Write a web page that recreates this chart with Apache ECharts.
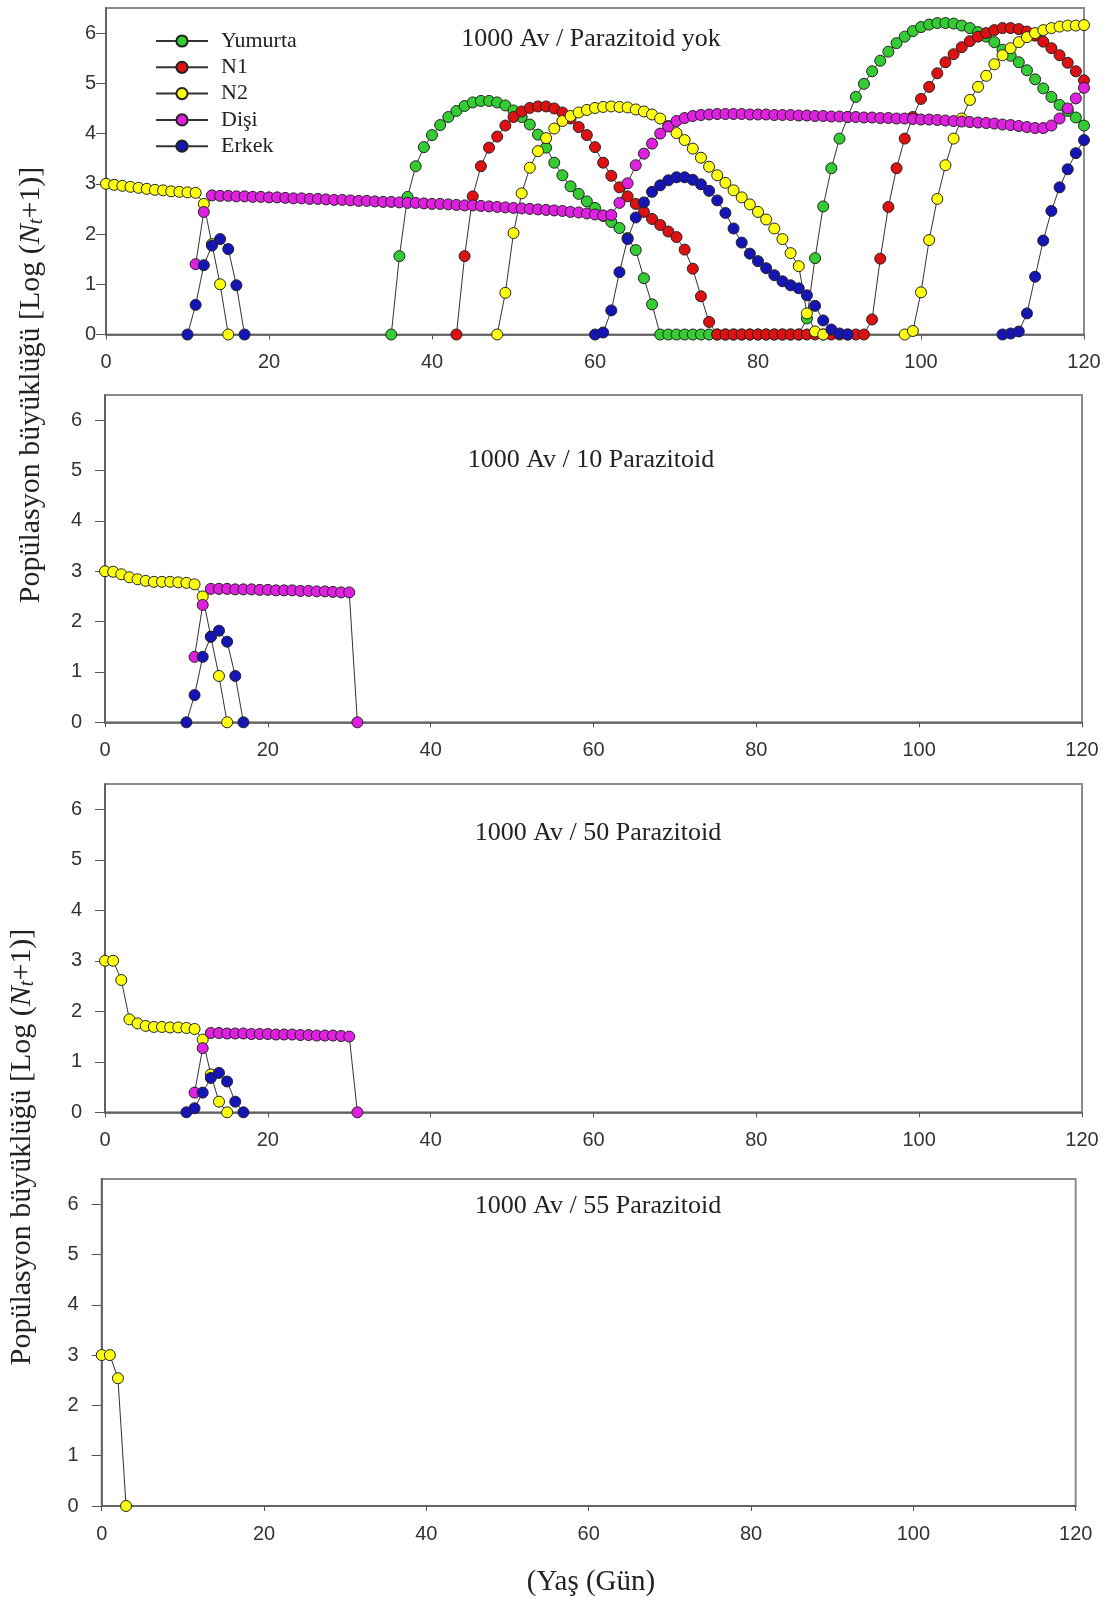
<!DOCTYPE html>
<html>
<head>
<meta charset="utf-8">
<script src="https://cdn.jsdelivr.net/npm/echarts@6/dist/echarts.min.js"></script>
<style>
  html, body { margin: 0; padding: 0; background: #ffffff; }
  #chart { width: 1120px; height: 1603px; }
</style>
</head>
<body>
<div id="chart"></div>
<script>
// ---------------- DATA (days 0..120, values = Log(Nt+1)) ----------------
const DAYS = 121;
const seriesNames = ['Yumurta', 'N1', 'N2', 'Dişi', 'Erkek'];
const xTicks = [0, 20, 40, 60, 80, 100, 120];
const yTicks = [0, 1, 2, 3, 4, 5, 6];
const panelTitles = ['1000 Av / Parazitoid yok', '1000 Av / 10 Parazitoid', '1000 Av / 50 Parazitoid', '1000 Av / 55 Parazitoid'];

// Each series: list of [startDay, values...] segments
// Panel 1: 1000 Av / Parazitoid yok
const p1Yumurta = [
  [35, [0, 1.56, 2.74, 3.35, 3.73, 3.97, 4.17, 4.33, 4.45, 4.55, 4.62, 4.65, 4.65, 4.62, 4.56, 4.46, 4.33, 4.18, 3.98, 3.72, 3.42, 3.17, 2.95, 2.8, 2.65, 2.52, 2.36, 2.24, 2.12, 1.92, 1.68, 1.12, 0.6, 0]],
  [69, [0, 0, 0, 0, 0, 0, 0, 0, 0, 0, 0, 0, 0, 0, 0, 0, 0]],
  [86, [0.32, 1.52, 2.55, 3.31, 3.9, 4.33, 4.73, 4.99, 5.24, 5.45, 5.63, 5.8, 5.93, 6.04, 6.12, 6.17, 6.2, 6.2, 6.19, 6.15, 6.1, 6.02, 5.93, 5.82, 5.67, 5.55, 5.42, 5.26, 5.08, 4.9, 4.73, 4.57, 4.45, 4.32, 4.16]]
];
const p1N1 = [
  [43, [0, 1.56, 2.75, 3.35, 3.72, 3.94, 4.16, 4.33, 4.44, 4.51, 4.54, 4.54, 4.5, 4.42, 4.3, 4.13, 3.97, 3.73, 3.42, 3.16, 2.93, 2.75, 2.6, 2.44, 2.3, 2.18, 2.05, 1.94, 1.69, 1.31, 0.76, 0.25, 0]],
  [76, [0, 0, 0, 0, 0, 0, 0, 0, 0, 0, 0, 0, 0, 0, 0, 0, 0, 0]],
  [94, [0.3, 1.51, 2.54, 3.31, 3.9, 4.33, 4.69, 4.93, 5.2, 5.42, 5.58, 5.72, 5.84, 5.93, 6.0, 6.06, 6.1, 6.1, 6.08, 6.03, 5.95, 5.83, 5.7, 5.56, 5.41, 5.24, 5.06]]
];
const p1N2 = [
  [0, [3.0, 2.98, 2.96, 2.94, 2.92, 2.9, 2.88, 2.87, 2.85, 2.84, 2.83, 2.82, 2.6, 1.8, 1.0, 0]],
  [48, [0, 0.83, 2.02, 2.81, 3.32, 3.65, 3.91, 4.1, 4.25, 4.35, 4.42, 4.47, 4.51, 4.53, 4.54, 4.53, 4.52, 4.48, 4.44, 4.38, 4.3, 4.15, 4.01, 3.87, 3.7, 3.52, 3.34, 3.17, 3.02, 2.87, 2.73, 2.59, 2.44, 2.29, 2.11, 1.9, 1.62, 1.36, 0.42, 0.06, 0]],
  [98, [0, 0.07, 0.84, 1.88, 2.7, 3.37, 3.9, 4.3, 4.67, 4.93, 5.15, 5.38, 5.56, 5.7, 5.82, 5.92, 6.0, 6.06, 6.1, 6.13, 6.15, 6.15, 6.16]]
];
const p1Disi = [
  [11, [1.4, 2.44, 2.77, 2.76, 2.76, 2.75, 2.75, 2.74, 2.74, 2.73, 2.73, 2.72, 2.71, 2.71, 2.70, 2.70, 2.69, 2.68, 2.68, 2.67,
        2.66, 2.66, 2.65, 2.64, 2.64, 2.63, 2.62, 2.62, 2.61, 2.60, 2.60, 2.59, 2.58, 2.57, 2.57, 2.56, 2.55, 2.54, 2.53, 2.52,
        2.51, 2.50, 2.49, 2.48, 2.47, 2.46, 2.44, 2.43, 2.41, 2.39, 2.37, 2.38, 2.62, 3.01, 3.37, 3.6, 3.8, 4.0, 4.14, 4.25,
        4.31, 4.35, 4.37, 4.38, 4.39, 4.39, 4.39, 4.39, 4.38, 4.38, 4.38, 4.37, 4.37, 4.37, 4.36, 4.36, 4.35, 4.35, 4.34, 4.34,
        4.33, 4.33, 4.32, 4.32, 4.31, 4.31, 4.30, 4.30, 4.29, 4.28, 4.28, 4.27, 4.26, 4.25, 4.24, 4.23, 4.22, 4.21, 4.20, 4.18,
        4.17, 4.15, 4.13, 4.11, 4.11, 4.16, 4.30, 4.50, 4.70, 4.91]]
];
const p1Erkek = [
  [10, [0, 0.59, 1.38, 1.77, 1.9, 1.7, 0.98, 0]],
  [60, [0, 0.04, 0.48, 1.24, 1.9, 2.33, 2.63, 2.84, 2.97, 3.07, 3.13, 3.13, 3.08, 2.99, 2.86, 2.67, 2.42, 2.11, 1.83, 1.61, 1.46, 1.32, 1.18, 1.06, 0.98, 0.92, 0.78, 0.57, 0.28, 0.1, 0.02, 0]],
  [110, [0, 0.02, 0.06, 0.42, 1.15, 1.87, 2.46, 2.93, 3.29, 3.61, 3.87]]
];

// Panel 2: 1000 Av / 10 Parazitoid
const p2N2 = [[0, [3.0, 2.99, 2.94, 2.88, 2.84, 2.81, 2.79, 2.79, 2.79, 2.78, 2.77, 2.74, 2.5, 1.7, 0.92, 0]]];
const p2Disi = [[11, [1.3, 2.33, 2.65, 2.65, 2.65, 2.64, 2.64, 2.64, 2.63, 2.63, 2.62, 2.62, 2.62, 2.61, 2.61, 2.60, 2.60, 2.59, 2.58, 2.58, 0]]];
const p2Erkek = [[10, [0, 0.54, 1.3, 1.7, 1.82, 1.6, 0.92, 0]]];

// Panel 3: 1000 Av / 50 Parazitoid
const p3N2 = [[0, [3.0, 3.0, 2.62, 1.84, 1.76, 1.71, 1.69, 1.69, 1.68, 1.68, 1.67, 1.65, 1.44, 0.75, 0.21, 0]]];
const p3Disi = [[11, [0.39, 1.27, 1.57, 1.57, 1.56, 1.56, 1.56, 1.55, 1.55, 1.55, 1.54, 1.54, 1.54, 1.53, 1.53, 1.52, 1.52, 1.52, 1.51, 1.5, 0]]];
const p3Erkek = [[10, [0, 0.08, 0.39, 0.68, 0.78, 0.61, 0.21, 0]]];

// Panel 4: 1000 Av / 55 Parazitoid
const p4N2 = [[0, [3.0, 3.0, 2.54, 0]]];

// ---------------- STYLE / LAYOUT ----------------
const COLORS = { 'Yumurta': '#33cc33', 'N1': '#dd1111', 'N2': '#ffff10', 'Dişi': '#e020e0', 'Erkek': '#1515b5' };
const SERIF = 'Liberation Serif';
const SANS = 'Liberation Sans';

const panels = [
  { grid: { left: 106, top: 8, width: 978, height: 326.5 }, yLabelMargin: 10, title: [591, 39],
    data: { 'Yumurta': p1Yumurta, 'N1': p1N1, 'N2': p1N2, 'Dişi': p1Disi, 'Erkek': p1Erkek } },
  { grid: { left: 105, top: 395, width: 977, height: 327.3 }, yLabelMargin: 23, title: [591, 460],
    data: { 'N2': p2N2, 'Dişi': p2Disi, 'Erkek': p2Erkek } },
  { grid: { left: 105, top: 784, width: 977, height: 328.3 }, yLabelMargin: 23, title: [598, 833],
    data: { 'N2': p3N2, 'Dişi': p3Disi, 'Erkek': p3Erkek } },
  { grid: { left: 101.7, top: 1179, width: 974, height: 327 }, yLabelMargin: 23, title: [598, 1206],
    data: { 'N2': p4N2 } }
];

function place(segments) {
  const a = new Array(DAYS).fill(null);
  segments.forEach(([s, vals]) => vals.forEach((v, k) => { a[s + k] = v; }));
  return a.map((v, i) => [i, v === null ? '-' : v]);
}

const grid = [], xAxis = [], yAxis = [], series = [], graphic = [];
panels.forEach((p, gi) => {
  grid.push(Object.assign({ show: true, borderColor: '#8c8c8c', borderWidth: 2, backgroundColor: 'transparent' }, p.grid));
  xAxis.push({
    type: 'value', gridIndex: gi, min: 0, max: 120, interval: 20,
    axisLine: { show: true, onZero: false, lineStyle: { color: '#555', width: 1.5 } },
    axisTick: { show: true, length: 5, lineStyle: { color: '#555' } },
    axisLabel: { margin: 18, fontSize: 20, fontFamily: SANS, color: '#333' },
    splitLine: { show: false }
  });
  yAxis.push({
    type: 'value', gridIndex: gi, min: 0, max: 6.5,
    axisLine: { show: true, onZero: false, lineStyle: { color: '#555', width: 1.5 } },
    axisTick: { show: true, length: 10, customValues: yTicks, lineStyle: { color: '#555' } },
    axisLabel: { margin: p.yLabelMargin, customValues: yTicks, fontSize: 20, fontFamily: SANS, color: '#333' },
    splitLine: { show: false }
  });
  seriesNames.forEach(name => {
    if (!p.data[name]) return;
    series.push({
      name: name, type: 'line', xAxisIndex: gi, yAxisIndex: gi,
      data: place(p.data[name]),
      symbol: 'circle', symbolSize: 11, showSymbol: true, showAllSymbol: true,
      connectNulls: false,
      lineStyle: { color: '#333', width: 1 },
      itemStyle: { color: COLORS[name], borderColor: '#222', borderWidth: 1 },
      emphasis: { disabled: true },
      animation: false
    });
  });
  graphic.push({
    type: 'text', x: p.title[0], y: p.title[1], z: 100,
    style: { text: panelTitles[gi], font: '26px "' + SERIF + '"', fill: '#222',
             align: 'center', verticalAlign: 'middle', textAlign: 'center', textVerticalAlign: 'middle' }
  });
});

const yTitleRich = {
  n: { fontFamily: SERIF, fontSize: 30, fontStyle: 'italic', fill: '#222', color: '#222' },
  t: { fontFamily: SERIF, fontSize: 20, fontStyle: 'italic', fill: '#222', color: '#222', padding: [12, 0, 0, 0] },
  r: { fontFamily: SERIF, fontSize: 30, fill: '#222', color: '#222' }
};
const yTitleText = '{r|Popülasyon büyüklüğü [Log (}{n|N}{t|t}{r|+1)]}';
[[31, 385], [22, 1147]].forEach(pos => {
  graphic.push({
    type: 'text', x: pos[0], y: pos[1], rotation: Math.PI / 2, z: 100,
    style: { text: yTitleText, rich: yTitleRich, font: '30px "' + SERIF + '"', fill: '#222',
             align: 'center', verticalAlign: 'middle', textAlign: 'center', textVerticalAlign: 'middle' }
  });
});
graphic.push({
  type: 'text', x: 591, y: 1582, z: 100,
  style: { text: '(Yaş (Gün)', font: '29px "' + SERIF + '"', fill: '#222',
           align: 'center', verticalAlign: 'middle', textAlign: 'center', textVerticalAlign: 'middle' }
});

const chart = echarts.init(document.getElementById('chart'), null, { renderer: 'canvas' });
chart.setOption({
  backgroundColor: '#ffffff',
  animation: false,
  grid: grid,
  xAxis: xAxis,
  yAxis: yAxis,
  legend: {
    data: seriesNames, orient: 'vertical', left: 150, top: 25,
    itemWidth: 52, itemHeight: 14, itemGap: 4.3, selectedMode: false,
    textStyle: { fontFamily: SERIF, fontSize: 22, color: '#222', lineHeight: 20, padding: [0, 0, 0, 8] }
  },
  graphic: graphic,
  series: series
});
</script>
</body>
</html>
